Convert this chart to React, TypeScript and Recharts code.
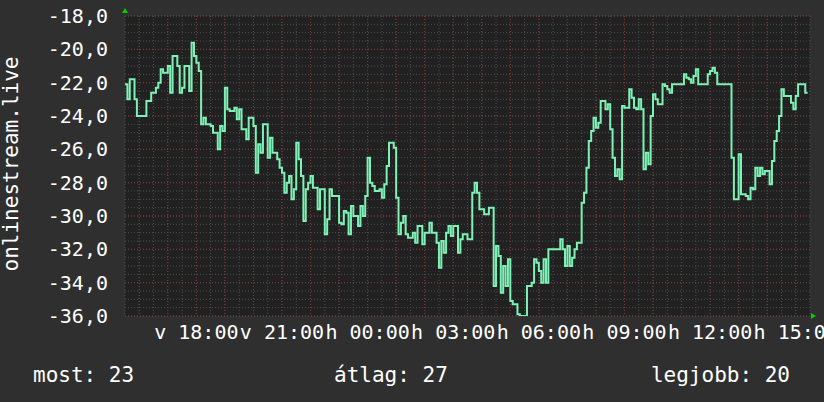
import { CartesianGrid, Line, LineChart, ReferenceDot, XAxis, YAxis } from "recharts"

// 5 minute samples starting at 15:30, one row = one hour
const stepMinutes = 5
const values = [
  -22.1, -23.0, -21.8, -21.8, -23.0, -24.0, -24.0, -24.0, -24.0, -23.1, -23.1, -22.6,
  -22.6, -22.3, -22.0, -21.2, -21.4, -21.4, -21.0, -22.6, -20.4, -20.4, -21.0, -22.6,
  -22.3, -21.0, -21.0, -22.5, -19.6, -20.4, -20.8, -21.3, -24.5, -24.1, -24.5, -24.5,
  -24.6, -25.0, -25.0, -26.0, -24.6, -24.9, -22.3, -23.6, -23.7, -23.7, -23.5, -24.2,
  -23.6, -24.8, -24.8, -25.4, -24.1, -24.1, -24.6, -27.4, -25.7, -26.2, -24.5, -24.5,
  -26.5, -25.3, -26.2, -26.2, -26.6, -27.1, -27.4, -28.6, -28.0, -27.6, -29.0, -28.4,
  -25.6, -26.6, -27.6, -30.3, -28.4, -28.0, -27.6, -28.3, -28.3, -29.6, -28.4, -28.4,
  -31.1, -30.2, -28.4, -28.8, -28.8, -28.8, -30.4, -30.5, -29.7, -29.8, -31.1, -29.4,
  -30.0, -30.0, -30.6, -29.4, -30.0, -28.8, -26.5, -28.0, -28.2, -28.5, -28.5, -28.4,
  -28.9, -28.1, -27.0, -25.6, -25.6, -25.9, -28.9, -31.1, -30.4, -30.0, -31.1, -31.3,
  -31.3, -31.0, -31.6, -30.6, -30.6, -31.7, -31.0, -31.0, -30.4, -31.0, -31.0, -31.6,
  -33.1, -31.5, -32.2, -31.0, -30.6, -31.2, -30.6, -30.6, -32.2, -31.4, -31.1, -31.1,
  -31.4, -31.4, -28.6, -28.0, -28.6, -29.6, -29.6, -29.9, -29.9, -29.5, -29.5, -34.2,
  -31.8, -32.4, -34.6, -33.0, -34.2, -32.6, -35.1, -35.3, -35.3, -35.9, -36.0, -36.0,
  -36.0, -34.2, -34.2, -34.0, -32.6, -32.8, -33.3, -34.0, -32.6, -34.0, -32.0, -32.0,
  -32.0, -32.0, -32.0, -31.4, -32.0, -33.0, -31.8, -33.0, -32.5, -32.0, -31.6, -31.6,
  -29.2, -28.6, -27.1, -25.5, -24.9, -24.1, -24.7, -24.4, -23.1, -23.1, -23.6, -23.3,
  -24.8, -26.5, -27.6, -27.2, -27.8, -23.4, -23.5, -23.5, -22.4, -22.9, -23.5, -23.6,
  -23.0, -23.6, -27.2, -26.2, -26.9, -24.0, -22.7, -23.0, -23.3, -23.3, -22.1, -22.2,
  -22.4, -22.6, -22.1, -22.1, -22.1, -22.1, -22.1, -21.5, -21.7, -21.8, -22.0, -21.6,
  -21.2, -22.1, -22.1, -22.1, -22.1, -21.5, -21.3, -21.1, -21.4, -22.1, -22.1, -22.1,
  -22.1, -22.1, -22.1, -26.5, -29.0, -29.0, -26.3, -28.7, -28.7, -28.8, -29.0, -28.3,
  -28.4, -27.1, -27.6, -27.1, -27.5, -27.3, -27.3, -28.1, -26.7, -25.5, -24.9, -24.0,
  -22.4, -22.8, -22.8, -22.8, -23.2, -23.6, -22.8, -22.1, -22.1, -22.1, -22.6, -22.6,
]

// tick positions in minutes after 15:30
const xTicks = [150, 330, 510, 690, 870, 1050, 1230, 1410]
const xTickLabels = ["v 18:00", "v 21:00", "h 00:00", "h 03:00", "h 06:00", "h 09:00", "h 12:00", "h 15:00"]
const yTicks = [-18, -20, -22, -24, -26, -28, -30, -32, -34, -36]
const yTitle = "onlinestream.live"
const legendItems = ["most: 23", "átlag: 27", "legjobb: 20"]

const data = values.map((v, i) => ({ t: i * stepMinutes, v }))

const minorX: number[] = []
for (let m = 0; m <= 1440; m += 30) minorX.push(m)
const majorX: number[] = []
for (let m = 30; m <= 1440; m += 60) majorX.push(m)
const minorY: number[] = []
for (let v = -36; v <= -18; v += 0.5) minorY.push(v)

const font = "'DejaVu Sans Mono', monospace"
const W = 824
const H = 402

const UpArrow = (p: any) => (
  <polygon points={`${p.cx - 3},${p.cy - 3} ${p.cx + 3},${p.cy - 3} ${p.cx},${p.cy - 8}`} fill="#00d000" />
)
const RightArrow = (p: any) => (
  <polygon points={`${p.cx + 1},${p.cy - 3} ${p.cx + 1},${p.cy + 3} ${p.cx + 6},${p.cy}`} fill="#00d000" />
)

export default function App() {
  return (
    <div style={{ position: "absolute", left: 0, top: 0, width: W, height: H, background: "#2f2f2f" }}>
      <LineChart width={W} height={H} data={data} margin={{ top: 16, right: 14, left: 20, bottom: 56 }}>
        <CartesianGrid
          fill="#212121"
          stroke="#4e4e4e"
          strokeDasharray="1 2"
          verticalValues={minorX}
          horizontalValues={minorY}
        />
        <CartesianGrid
          stroke="#7a3a3a"
          strokeDasharray="1 2"
          verticalValues={majorX}
          horizontalValues={yTicks}
        />
        <XAxis
          dataKey="t"
          type="number"
          domain={[0, 1440]}
          ticks={xTicks}
          interval={0}
          tickFormatter={(t: number) => xTickLabels[xTicks.indexOf(t)]}
          axisLine={false}
          tickLine={false}
          tickSize={0}
          tickMargin={9}
          height={30}
          tick={{ fill: "#ffffff", fontSize: 20, fontFamily: font }}
        />
        <YAxis
          type="number"
          domain={[-36, -18]}
          ticks={yTicks}
          interval={0}
          allowDataOverflow
          tickFormatter={(v: number) => v.toFixed(1).replace(".", ",")}
          axisLine={false}
          tickLine={false}
          tickSize={0}
          tickMargin={17}
          width={105}
          tick={{ fill: "#ffffff", fontSize: 20, fontFamily: font }}
        />
        <Line
          type="stepAfter"
          dataKey="v"
          stroke="#7ef2b6"
          strokeWidth={2}
          dot={false}
          isAnimationActive={false}
        />
        <ReferenceDot x={0} y={-18} ifOverflow="visible" shape={UpArrow} />
        <ReferenceDot x={1440} y={-36} ifOverflow="visible" shape={RightArrow} />
      </LineChart>
      <svg width={W} height={H} style={{ position: "absolute", left: 0, top: 0, pointerEvents: "none" }}>
        <text
          transform="translate(18,164) rotate(-90)"
          textAnchor="middle"
          fill="#ffffff"
          fontSize={21}
          fontFamily={font}
        >
          {yTitle}
        </text>
        <text x={33} y={382} fill="#ffffff" fontSize={21} fontFamily={font}>{legendItems[0]}</text>
        <text x={334} y={382} fill="#ffffff" fontSize={21} fontFamily={font}>{legendItems[1]}</text>
        <text x={790} y={382} textAnchor="end" fill="#ffffff" fontSize={21} fontFamily={font}>{legendItems[2]}</text>
      </svg>
    </div>
  )
}
